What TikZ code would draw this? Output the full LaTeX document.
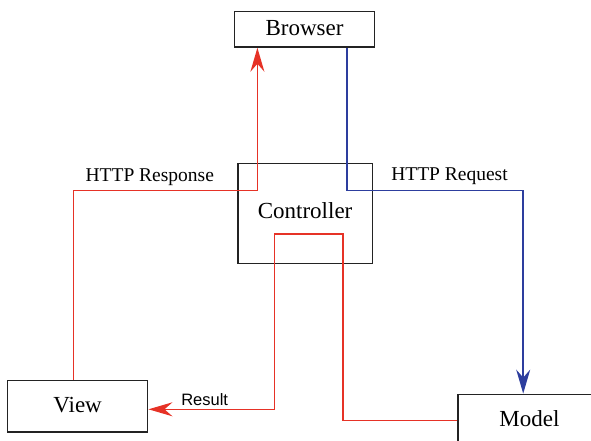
\documentclass[tikz,border=0pt]{standalone}
\usepackage{fontspec}
\setmainfont{Liberation Serif}
\newfontfamily\labsans{Liberation Sans}
\usetikzlibrary{arrows.meta}
\definecolor{myred}{RGB}{230,50,38}
\definecolor{myblue}{RGB}{45,62,158}
\definecolor{boxline}{RGB}{35,35,35}
\begin{document}
\begin{tikzpicture}[x=1pt,y=-1pt,
  box/.style={draw=boxline, line width=1.4pt, rectangle, inner sep=0pt,
    font=\fontsize{23}{26}\selectfont, text height=16pt, text depth=4pt},
  resp/.style={draw=myred, line width=1.5pt},
  req/.style={draw=myblue, line width=1.5pt},
  tip/.style={-{Stealth[length=24pt,width=14pt,inset=8pt]}},
  lab/.style={font=\fontsize{19.5}{22}\selectfont, anchor=base, inner sep=0pt},
]
\useasboundingbox (0,0) rectangle (591,441);
\node[box, minimum width=139.5pt, minimum height=35.3pt] (browser) at (304.5,29.4) {Browser};
\node[box, minimum width=134.6pt, minimum height=100pt, text depth=7pt] (controller) at (305.1,213.7) {Controller};
\node[box, minimum width=140.3pt, minimum height=51.7pt] (view) at (77.6,406.2) {View};
\node[box, minimum width=143pt, minimum height=52pt] (model) at (529.5,420.3) {Model};

\coordinate (rA) at (73.5,0);
\coordinate (rB) at (257.4,190.7);
\draw[resp,tip] (view.north -| rA) |- (rB) -- (browser.south -| rB);

\coordinate (bA) at (347.2,0);
\coordinate (bB) at (523.2,190.5);
\draw[req,tip] (browser.south -| bA) |- (bB) -- (model.north -| bB);

\coordinate (cA) at (343,234);
\coordinate (cB) at (274.4,409.3);
\draw[resp,tip] (model.west) -| (cA) -| (cB) -- (view.east |- cB);

\node[lab] (lresp) at (149.8,181.7) {HTTP Response};
\node[lab] (lreq) at (449.5,180) {HTTP Request};
\node[lab, font=\labsans\fontsize{16.5}{19}\selectfont] (lres) at (204.7,405) {Result};
\end{tikzpicture}
\end{document}
